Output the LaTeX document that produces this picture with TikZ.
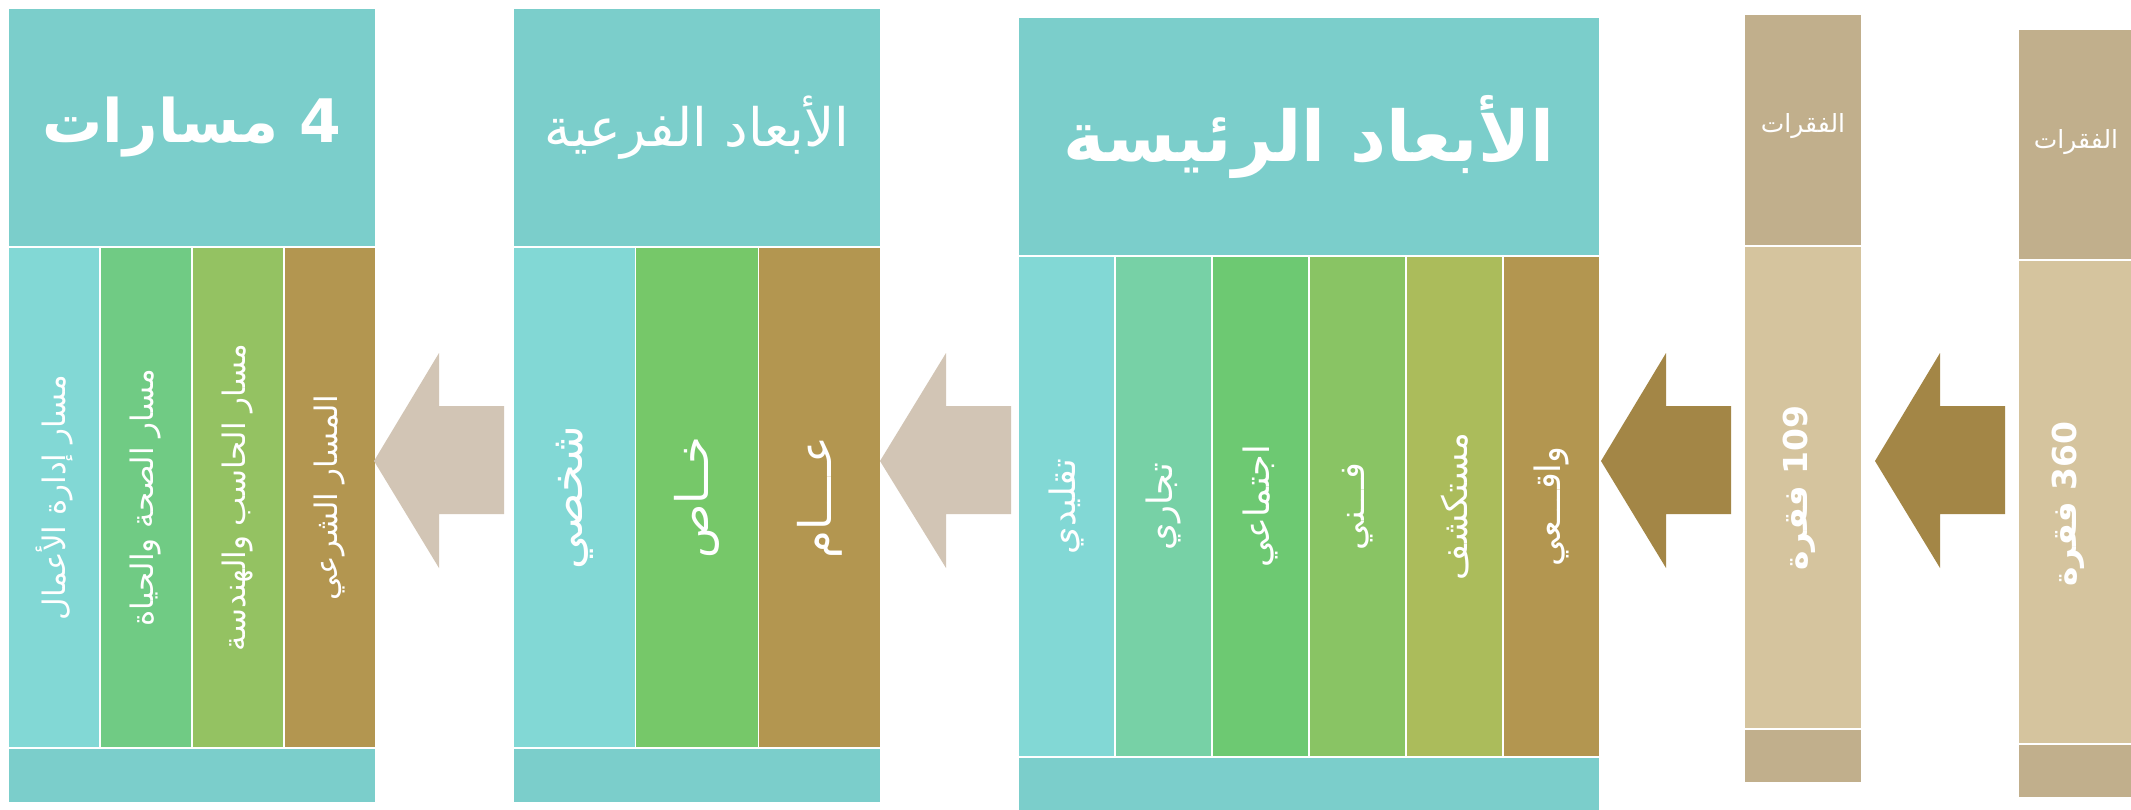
\documentclass[tikz,border=0pt]{standalone}
\usepackage{fontspec}
\newfontfamily\arabicfont[Script=Arabic]{DejaVu Sans}
\TeXXeTstate=1
\definecolor{hdrteal}{HTML}{7BCECB}
\definecolor{ccyan}{HTML}{82D8D5}
\definecolor{cgreenA}{HTML}{70CB84}
\definecolor{colive}{HTML}{94C262}
\definecolor{cgold}{HTML}{B39650}
\definecolor{cgreenB}{HTML}{76C869}
\definecolor{cmint}{HTML}{77D1A6}
\definecolor{cgreenC}{HTML}{6DC972}
\definecolor{cgreenD}{HTML}{89C464}
\definecolor{cyellowg}{HTML}{ABBC5B}
\definecolor{lightarr}{HTML}{D2C5B5}
\definecolor{darkarr}{HTML}{A38646}
\definecolor{tanhdr}{HTML}{C1AF8C}
\definecolor{tancol}{HTML}{D5C49E}
\tikzset{
  rbox/.style={rectangle, draw=white, line width=1.5pt, inner sep=0pt, outer sep=0pt},
  txt/.style={text=white, inner sep=0pt, font=\arabicfont},
  coltxt/.style={txt, rotate=90},
  blockarrow/.style={draw=none}
}
\newcommand{\ar}[1]{\beginR #1\endR}
\begin{document}
\begin{tikzpicture}[x=1pt,y=-1pt]
\useasboundingbox[fill=white] (0,0) rectangle (2131,809);
% ---------- Group 1 : 4 tracks ----------
\node[rbox, fill=hdrteal, minimum width=368pt, minimum height=239pt] (g1h) at (192,127.5) {};
\node[rbox, fill=ccyan, minimum width=92pt, minimum height=501pt] (g1a) at (54,497.5) {};
\node[rbox, fill=cgreenA, minimum width=92pt, minimum height=501pt] (g1b) at (146,497.5) {};
\node[rbox, fill=colive, minimum width=92pt, minimum height=501pt] (g1c) at (238,497.5) {};
\node[rbox, fill=cgold, minimum width=92pt, minimum height=501pt] (g1d) at (330,497.5) {};
\node[rbox, fill=hdrteal, minimum width=368pt, minimum height=55pt] (g1f) at (192,775.5) {};
\node[txt, font=\arabicfont\bfseries\fontsize{60}{68}\selectfont] (t1h) at (g1h) {\ar{\beginL 4\endL{} مسارات}};
\node[coltxt, font=\arabicfont\fontsize{31}{36}\selectfont] (t1a) at (g1a) {\ar{مسار إدارة الأعمال}};
\node[coltxt, font=\arabicfont\fontsize{31}{36}\selectfont] (t1b) at (g1b) {\ar{مسار الصحة والحياة}};
\node[coltxt, font=\arabicfont\fontsize{31}{36}\selectfont] (t1c) at (g1c) {\ar{مسار الحاسب والهندسة}};
\node[coltxt, font=\arabicfont\fontsize{31}{36}\selectfont] (t1d) at (g1d) {\ar{المسار الشرعي}};
% ---------- Group 2 : sub dimensions ----------
\node[rbox, fill=hdrteal, minimum width=368pt, minimum height=239pt] (g2h) at (697,127.5) {};
\node[rbox, fill=ccyan, minimum width=122.67pt, minimum height=501pt] (g2a) at (574.33,497.5) {};
\node[rbox, fill=cgreenB, minimum width=122.67pt, minimum height=501pt] (g2b) at (697,497.5) {};
\node[rbox, fill=cgold, minimum width=122.67pt, minimum height=501pt] (g2c) at (819.67,497.5) {};
\node[rbox, fill=hdrteal, minimum width=368pt, minimum height=55pt] (g2f) at (697,775.5) {};
\node[txt, font=\arabicfont\fontsize{53}{60}\selectfont] (t2h) at (g2h) {\ar{الأبعاد الفرعية}};
\node[coltxt, font=\arabicfont\fontsize{45}{52}\selectfont] (t2a) at (g2a) {\ar{شخصي}};
\node[coltxt, font=\arabicfont\fontsize{45}{52}\selectfont] (t2b) at (g2b) {\ar{خــاص}};
\node[coltxt, font=\arabicfont\fontsize{45}{52}\selectfont] (t2c) at (g2c) {\ar{عــــام}};
% ---------- Group 3 : main dimensions ----------
\node[rbox, fill=hdrteal, minimum width=582pt, minimum height=239pt] (g3h) at (1309,136.5) {};
\node[rbox, fill=ccyan, minimum width=97pt, minimum height=501pt] (g3a) at (1066.5,506.5) {};
\node[rbox, fill=cmint, minimum width=97pt, minimum height=501pt] (g3b) at (1163.5,506.5) {};
\node[rbox, fill=cgreenC, minimum width=97pt, minimum height=501pt] (g3c) at (1260.5,506.5) {};
\node[rbox, fill=cgreenD, minimum width=97pt, minimum height=501pt] (g3d) at (1357.5,506.5) {};
\node[rbox, fill=cyellowg, minimum width=97pt, minimum height=501pt] (g3e) at (1454.5,506.5) {};
\node[rbox, fill=cgold, minimum width=97pt, minimum height=501pt] (g3f) at (1551.5,506.5) {};
\node[rbox, fill=hdrteal, minimum width=582pt, minimum height=55pt] (g3z) at (1309,784.5) {};
\node[txt, font=\arabicfont\bfseries\fontsize{70}{78}\selectfont] (t3h) at (g3h) {\ar{الأبعاد الرئيسة}};
\node[coltxt, font=\arabicfont\fontsize{35}{40}\selectfont] (t3a) at (g3a) {\ar{تقليدي}};
\node[coltxt, font=\arabicfont\fontsize{35}{40}\selectfont] (t3b) at (g3b) {\ar{تجاري}};
\node[coltxt, font=\arabicfont\fontsize{35}{40}\selectfont] (t3c) at (g3c) {\ar{اجتماعي}};
\node[coltxt, font=\arabicfont\fontsize{35}{40}\selectfont] (t3d) at (g3d) {\ar{فـــني}};
\node[coltxt, font=\arabicfont\fontsize{35}{40}\selectfont] (t3e) at (g3e) {\ar{مستكشف}};
\node[coltxt, font=\arabicfont\fontsize{35}{40}\selectfont] (t3f) at (g3f) {\ar{واقـــعي}};
% ---------- 109 items ----------
\node[rbox, fill=tanhdr, minimum width=118pt, minimum height=232pt] (g4h) at (1803,130) {};
\node[rbox, fill=tancol, minimum width=118pt, minimum height=483pt] (g4c) at (1803,487.5) {};
\node[rbox, fill=tanhdr, minimum width=118pt, minimum height=54pt] (g4f) at (1803,756) {};
\node[txt, font=\arabicfont\fontsize{25}{30}\selectfont] (t4h) at (1803,126) {\ar{الفقرات}};
\node[coltxt, font=\arabicfont\bfseries\fontsize{33}{38}\selectfont] (t4c) at (1799,488) {\ar{\beginL 109\endL{} فقرة}};
% ---------- 360 items ----------
\node[rbox, fill=tanhdr, minimum width=118pt, minimum height=231pt] (g5h) at (2077,144.5) {};
\node[rbox, fill=tancol, minimum width=118pt, minimum height=484pt] (g5c) at (2077,502) {};
\node[rbox, fill=tanhdr, minimum width=118pt, minimum height=54pt] (g5f) at (2077,771) {};
\node[txt, font=\arabicfont\fontsize{25}{30}\selectfont] (t5h) at (2076,142) {\ar{الفقرات}};
\node[coltxt, font=\arabicfont\bfseries\fontsize{33}{38}\selectfont] (t5c) at (2068,504) {\ar{\beginL 360\endL{} فقرة}};
% ---------- block arrows ----------
\fill[lightarr] (504,406) -- (439,406) -- (439,353) -- (374,461) -- (439,568) -- (439,514) -- (504,514) -- cycle;
\fill[lightarr] (1011,406) -- (946,406) -- (946,353) -- (880,461) -- (946,568) -- (946,514) -- (1011,514) -- cycle;
\fill[darkarr] (1731,406) -- (1666,406) -- (1666,353) -- (1601,461) -- (1666,568) -- (1666,514) -- (1731,514) -- cycle;
\fill[darkarr] (2005,406) -- (1940,406) -- (1940,353) -- (1875,461) -- (1940,568) -- (1940,514) -- (2005,514) -- cycle;
\end{tikzpicture}
\end{document}
